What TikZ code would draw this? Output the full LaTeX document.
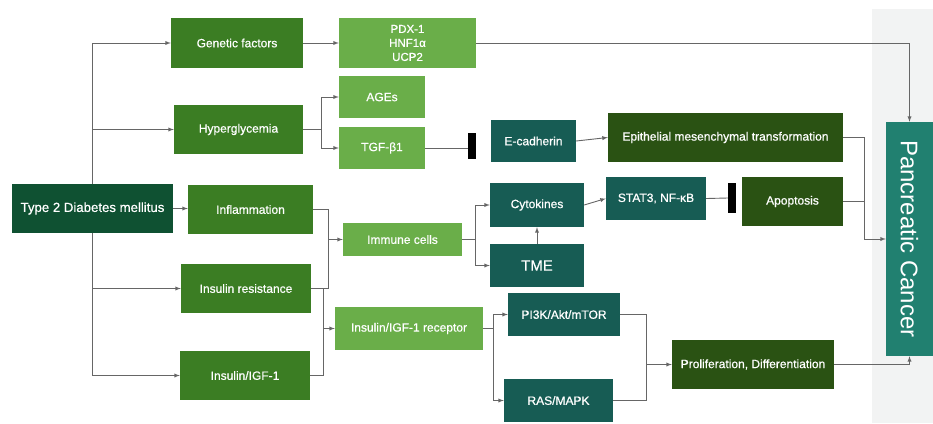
\documentclass[tikz,border=0pt]{standalone}
\usepackage{fontspec}
\setmainfont{Liberation Sans}
\newfontfamily\medfont[FakeBold=0.6]{Liberation Sans}
\definecolor{tdmgreen}{HTML}{0F5132}
\definecolor{midgreen}{HTML}{3B7D23}
\definecolor{lightgreen}{HTML}{6AAE49}
\definecolor{tealgreen}{HTML}{175C54}
\definecolor{olivegreen}{HTML}{2A5213}
\definecolor{cancerteal}{HTML}{218070}
\definecolor{panelgray}{HTML}{F2F3F3}
\definecolor{linegray}{HTML}{666666}
\begin{document}
\begin{tikzpicture}[x=1pt,y=-1pt,
    box/.style={inner sep=0pt,align=center,text=white,font=\medfont\fontsize{12}{14}\selectfont},
    tdmbox/.style={box,fill=tdmgreen},
    midbox/.style={box,fill=midgreen},
    lightbox/.style={box,fill=lightgreen},
    tealbox/.style={box,fill=tealgreen},
    olivebox/.style={box,fill=olivegreen},
    blocker/.style={fill=black,inner sep=0pt,minimum width=8pt},
    link/.style={draw=linegray,line width=0.9pt},
    arr/.style={link,-latex}]
    \useasboundingbox (0,0) rectangle (933,423);
    \fill[panelgray] (872,9) rectangle (933,423);

    % left column
    \node[tdmbox,minimum width=161pt,minimum height=49pt,font=\medfont\fontsize{13.2}{15}\selectfont] (t2dm) at (92.5,208.5) {Type 2 Diabetes mellitus};
    \node[midbox,minimum width=132pt,minimum height=50pt] (genetic) at (237,43) {Genetic factors};
    \node[midbox,minimum width=129pt,minimum height=49pt] (hyper) at (238.5,129.5) {Hyperglycemia};
    \node[midbox,minimum width=125pt,minimum height=49pt] (inflam) at (250.5,209.5) {Inflammation};
    \node[midbox,minimum width=130pt,minimum height=49pt] (insres) at (246,288.5) {Insulin resistance};
    \node[midbox,minimum width=130pt,minimum height=49pt] (insigf) at (245,375.5) {Insulin/IGF-1};

    % middle
    \node[lightbox,minimum width=137pt,minimum height=50pt,font=\medfont\fontsize{11.5}{14}\selectfont] (pdx) at (407.5,43) {PDX-1\\HNF1α\\UCP2};
    \node[lightbox,minimum width=86pt,minimum height=42pt] (ages) at (382,97) {AGEs};
    \node[lightbox,minimum width=86pt,minimum height=42pt] (tgf) at (382,148) {TGF-β1};
    \node[lightbox,minimum width=119pt,minimum height=33pt] (immune) at (402.5,239.5) {Immune cells};
    \node[lightbox,minimum width=148pt,minimum height=43pt] (receptor) at (409,328.5) {Insulin/IGF-1 receptor};
    \node[blocker,minimum height=26pt] (bar1) at (472,146) {};

    % right
    \node[tealbox,minimum width=85pt,minimum height=42pt] (ecad) at (533.5,141) {E-cadherin};
    \node[olivebox,minimum width=235pt,minimum height=49pt] (emt) at (725.5,137.5) {Epithelial mesenchymal transformation};
    \node[tealbox,minimum width=94pt,minimum height=44pt] (cyto) at (537,205) {Cytokines};
    \node[tealbox,minimum width=94pt,minimum height=43pt,font=\medfont\fontsize{15}{17}\selectfont] (tme) at (537,265.5) {TME};
    \node[tealbox,minimum width=100pt,minimum height=43pt] (stat) at (656,198.5) {STAT3, NF-κB};
    \node[blocker,minimum height=30pt] (bar2) at (732,198) {};
    \node[olivebox,minimum width=101pt,minimum height=49pt] (apop) at (792.5,201.5) {Apoptosis};
    \node[tealbox,minimum width=112pt,minimum height=43pt] (pi3k) at (564,314.5) {PI3K/Akt/mTOR};
    \node[tealbox,minimum width=109pt,minimum height=43pt] (ras) at (558.5,400.5) {RAS/MAPK};
    \node[olivebox,minimum width=162pt,minimum height=49pt] (prolif) at (753,364.5) {Proliferation, Differentiation};
    \node[box,fill=cancerteal,minimum width=47pt,minimum height=234pt] (panc) at (909.5,239) {};
    \node[text=white,font=\fontsize{24}{28}\selectfont,rotate=-90] (panctext) at (panc.center) {Pancreatic Cancer};

    % junctions
    \coordinate (hsplit) at (321,129.5);
    \coordinate (imjoin) at (328,239.5);
    \coordinate (rcjoin) at (323,328.5);
    \coordinate (imsplit) at (475,239.5);
    \coordinate (rcsplit) at (493,328.5);
    \coordinate (prjoin) at (646,364.5);
    \coordinate (pcjoin) at (864,239);

    % connectors
    \draw[arr] (t2dm.north) |- (genetic.west);
    \draw[arr] (t2dm.north) |- (hyper.west);
    \draw[arr] (t2dm.east) -- (t2dm.east -| inflam.west);
    \draw[arr] (t2dm.south) |- (insres.west);
    \draw[arr] (t2dm.south) |- (insigf.west);
    \draw[arr] (genetic.east) -- (pdx.west);
    \draw[arr] (pdx.east) -| (panc.north);
    \draw[link] (hyper.east) -- (hsplit);
    \draw[arr] (hsplit) |- (ages.west);
    \draw[arr] (hsplit) |- (tgf.west);
    \draw[link] (tgf.east) -- (tgf.east -| bar1.west);
    \draw[arr] (ecad.east) -- (emt.west);
    \draw[link] (inflam.east) -| (imjoin);
    \draw[link] (insres.east) -| (imjoin);
    \draw[arr] (imjoin) -- (immune.west);
    \draw[link] (insres.east) -| (rcjoin);
    \draw[link] (insigf.east) -| (rcjoin);
    \draw[arr] (rcjoin) -- (receptor.west);
    \draw[link] (immune.east) -- (imsplit);
    \draw[arr] (imsplit) |- (cyto.west);
    \draw[arr] (imsplit) |- (tme.west);
    \draw[arr] (tme.north) -- (cyto.south);
    \draw[arr] (cyto.east) -- (stat.west);
    \draw[link] (stat.east) -- (bar2.west);
    \draw[link] (emt.east) -| (pcjoin);
    \draw[link] (apop.east) -| (pcjoin);
    \draw[arr] (pcjoin) -- (panc.west);
    \draw[link] (receptor.east) -- (rcsplit);
    \draw[arr] (rcsplit) |- (pi3k.west);
    \draw[arr] (rcsplit) |- (ras.west);
    \draw[link] (pi3k.east) -| (prjoin);
    \draw[link] (ras.east) -| (prjoin);
    \draw[arr] (prjoin) -- (prolif.west);
    \draw[arr] (prolif.east) -| (panc.south);
\end{tikzpicture}
\end{document}
